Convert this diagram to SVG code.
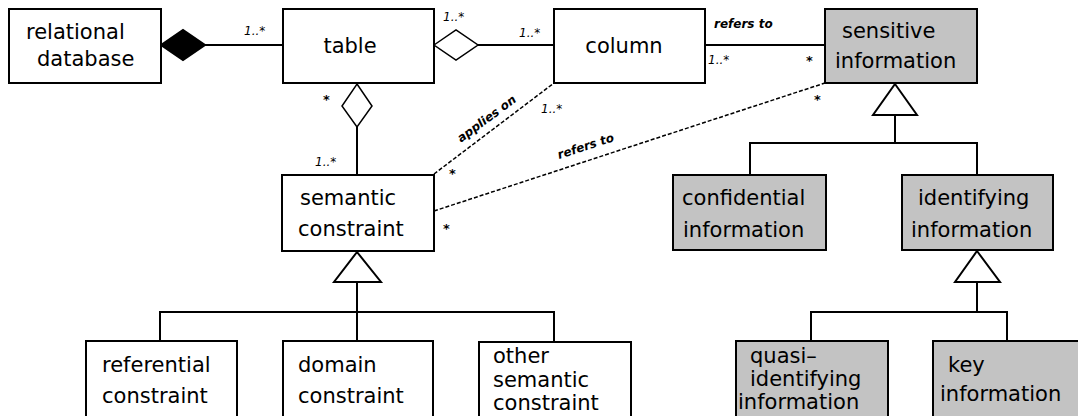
<svg xmlns="http://www.w3.org/2000/svg" width="1078" height="416" viewBox="0 0 1078 416">
<style>
.box{fill:#fff;stroke:#000;stroke-width:2}
.g{fill:#c3c3c3}
.t{font-family:"DejaVu Sans",sans-serif;font-size:21px;fill:#000}
.m{font-family:"DejaVu Sans",sans-serif;font-size:12px;font-style:italic;fill:#000}
.s{font-family:"DejaVu Sans",sans-serif;font-size:13px;font-weight:bold;fill:#000}
.ln{fill:none;stroke:#000;stroke-width:2}
.ds{fill:none;stroke:#000;stroke-width:1.5;stroke-dasharray:4 2}
.tri{fill:#fff;stroke:#000;stroke-width:2}
</style>
<rect width="1078" height="416" fill="#fff"/>
<g id="connectors">
  <line class="ln" x1="161" y1="45" x2="283" y2="45"/>
  <polygon points="161,45 183,30 205,45 183,60" fill="#000" stroke="#000" stroke-width="2"/>
  <line class="ln" x1="434" y1="45" x2="554" y2="45"/>
  <polygon points="434,45 456,30 478,45 456,60" fill="#fff" stroke="#000" stroke-width="1.5"/>
  <line class="ln" x1="705" y1="45" x2="825" y2="45"/>
  <line class="ln" x1="357" y1="83" x2="357" y2="175"/>
  <polygon points="357,84 372,106 357,127 342,106" fill="#fff" stroke="#000" stroke-width="1.5"/>
  <line class="ds" x1="434" y1="174" x2="554" y2="83"/>
  <line class="ds" x1="434" y1="211" x2="825" y2="83"/>
  <polyline class="ln" points="895,115 895,143"/>
  <polyline class="ln" points="750,175 750,143 977,143 977,175"/>
  <polygon class="tri" points="895,84 917,115 873,115"/>
  <polyline class="ln" points="977,282 977,312"/>
  <polyline class="ln" points="811,341 811,312 1007,312 1007,341"/>
  <polygon class="tri" points="977,251 1000,282 955,282"/>
  <polyline class="ln" points="357,282 357,341"/>
  <polyline class="ln" points="160,341 160,312 554,312 554,341"/>
  <polygon class="tri" points="357,252 381,282 334,282"/>
  <text class="m" x="244" y="35">1..*</text>
  <text class="m" x="443" y="21">1..*</text>
  <text class="m" x="519" y="37">1..*</text>
  <text class="s" x="323" y="104">*</text>
  <text class="m" x="315" y="166">1..*</text>
  <text class="s" x="449" y="178">*</text>
  <text class="m" x="541" y="113">1..*</text>
  <text class="s" x="443" y="233">*</text>
  <text class="s" x="814" y="104">*</text>
  <text class="m" x="708" y="64">1..*</text>
  <text class="s" x="806" y="65">*</text>
  <text class="m" x="714" y="28" font-weight="bold">refers to</text>
  <text class="m" x="489" y="122" text-anchor="middle" transform="rotate(-36.6 489 122)" font-weight="bold">applies on</text>
  <text class="m" x="587" y="150" text-anchor="middle" transform="rotate(-18.1 587 150)" font-weight="bold">refers to</text>
</g>
<g id="relational-database">
  <rect class="box" x="9" y="9" width="152" height="74"/>
  <text class="t" x="26" y="39">relational</text>
  <text class="t" x="37" y="66">database</text>
</g>
<g id="table">
  <rect class="box" x="283" y="9" width="151" height="74"/>
  <text class="t" x="350" y="53" text-anchor="middle">table</text>
</g>
<g id="column">
  <rect class="box" x="554" y="9" width="151" height="74"/>
  <text class="t" x="624" y="53" text-anchor="middle">column</text>
</g>
<g id="sensitive-information">
  <rect class="box g" x="825" y="9" width="152" height="74"/>
  <text class="t" x="842" y="38">sensitive</text>
  <text class="t" x="835" y="68">information</text>
</g>
<g id="semantic-constraint">
  <rect class="box" x="282" y="175" width="152" height="76"/>
  <text class="t" x="300" y="205">semantic</text>
  <text class="t" x="298" y="236">constraint</text>
</g>
<g id="confidential-information">
  <rect class="box g" x="673" y="175" width="153" height="75"/>
  <text class="t" x="682" y="205">confidential</text>
  <text class="t" x="683" y="237">information</text>
</g>
<g id="identifying-information">
  <rect class="box g" x="902" y="175" width="151" height="75"/>
  <text class="t" x="918" y="205">identifying</text>
  <text class="t" x="911" y="237">information</text>
</g>
<g id="referential-constraint">
  <rect class="box" x="86" y="341" width="151" height="80"/>
  <text class="t" x="102" y="372">referential</text>
  <text class="t" x="102" y="403">constraint</text>
</g>
<g id="domain-constraint">
  <rect class="box" x="283" y="341" width="150" height="80"/>
  <text class="t" x="298" y="372">domain</text>
  <text class="t" x="298" y="403">constraint</text>
</g>
<g id="other-semantic-constraint">
  <rect class="box" x="479" y="342" width="152" height="80"/>
  <text class="t" x="493" y="363">other</text>
  <text class="t" x="493" y="387">semantic</text>
  <text class="t" x="493" y="410">constraint</text>
</g>
<g id="quasi-identifying-information">
  <rect class="box g" x="736" y="341" width="152" height="80"/>
  <text class="t" x="750" y="363">quasi–</text>
  <text class="t" x="750" y="386">identifying</text>
  <text class="t" x="738" y="409">information</text>
</g>
<g id="key-information">
  <rect class="box g" x="933" y="341" width="152" height="80"/>
  <text class="t" x="948" y="372">key</text>
  <text class="t" x="940" y="401">information</text>
</g>
</svg>
